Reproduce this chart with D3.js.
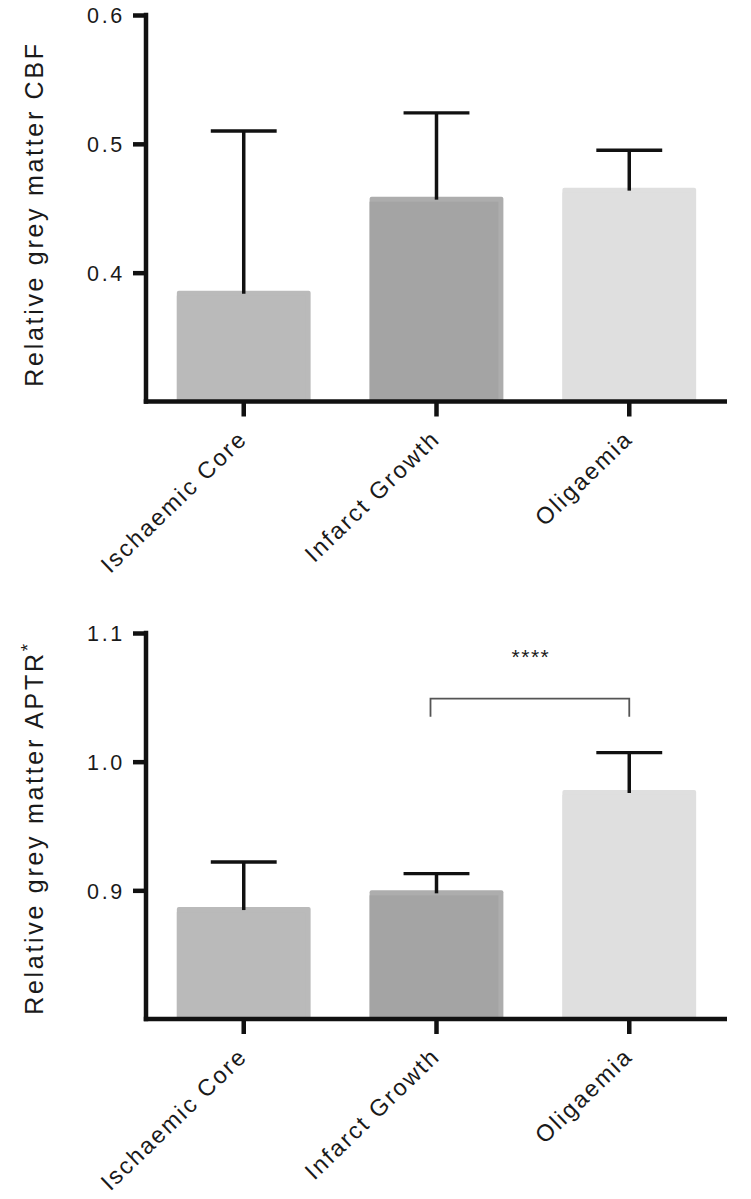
<!DOCTYPE html>
<html>
<head>
<meta charset="utf-8">
<script src="https://cdn.jsdelivr.net/npm/d3@7"></script>
<style>
  html, body { margin: 0; padding: 0; background: #fff; }
  svg { display: block; }
  text { font-family: "Liberation Sans", Arial, sans-serif; fill: #1a1a1a; }
</style>
</head>
<body>
<svg id="chart" width="751" height="1199"></svg>
<script>
// ---- Data ----
const categories = ["Ischaemic Core", "Infarct Growth", "Oligaemia"];
const barColors = ["#bababa", "#a4a4a4", "#dfdfdf"];
const barEdgeColors = ["#bababa", "#adadad", "#dfdfdf"];

// Panel A: Relative grey matter CBF
const cbfMeans = [0.386, 0.459, 0.466];
const cbfUpper = [0.510, 0.524, 0.495];
const cbfDomain = [0.3, 0.6];
const cbfTicks = [0.4, 0.5, 0.6];

// Panel B: Relative grey matter APTR*
const aptrMeans = [0.887, 0.900, 0.978];
const aptrUpper = [0.922, 0.913, 1.007];
const aptrDomain = [0.8, 1.1];
const aptrTicks = [0.9, 1.0, 1.1];

// Significance annotation (panel B)
const sigFrom = "Infarct Growth";
const sigTo = "Oligaemia";
const sigLabel = "****";
const sigBracketValue = 1.049;
const sigLegValue = 1.035;
const sigTextValue = 1.084;

const svg = d3.select("#chart");
const LS = 2.7; // letter spacing of the original typeface

function drawPanel(top, bottom, means, upper, domain, ticks, yLabelParts, labelCy, sig) {
  const left = 146, right = 727;
  const g = svg.append("g");

  const x = d3.scaleBand().domain(categories).range([left, right]).paddingInner(0.306).paddingOuter(0.16);
  const y = d3.scaleLinear().domain(domain).range([bottom, top]);

  // bars (with subtle edge)
  g.selectAll("rect.bar").data(categories).join("rect")
    .attr("class", "bar")
    .attr("x", d => x(d))
    .attr("width", x.bandwidth())
    .attr("y", (d, i) => y(means[i]))
    .attr("height", (d, i) => y(domain[0]) - y(means[i]))
    .attr("rx", 2)
    .attr("fill", (d, i) => barEdgeColors[i]);
  g.selectAll("rect.inner").data(categories).join("rect")
    .attr("class", "inner")
    .attr("x", d => x(d))
    .attr("width", x.bandwidth() - 5)
    .attr("y", (d, i) => y(means[i]) + 5)
    .attr("height", (d, i) => y(domain[0]) - y(means[i]) - 5)
    .attr("fill", (d, i) => barColors[i]);

  // error bars
  const capHalf = x.bandwidth() / 4 - 0.5;
  const eb = g.selectAll("g.eb").data(categories).join("g").attr("class", "eb");
  eb.append("line")
    .attr("x1", d => x(d) + x.bandwidth() / 2)
    .attr("x2", d => x(d) + x.bandwidth() / 2)
    .attr("y1", (d, i) => y(means[i]) + 3)
    .attr("y2", (d, i) => y(upper[i]))
    .attr("stroke", "#111").attr("stroke-width", 3.5);
  eb.append("line")
    .attr("x1", d => x(d) + x.bandwidth() / 2 - capHalf)
    .attr("x2", d => x(d) + x.bandwidth() / 2 + capHalf)
    .attr("y1", (d, i) => y(upper[i]))
    .attr("y2", (d, i) => y(upper[i]))
    .attr("stroke", "#111").attr("stroke-width", 3.4);

  // y axis
  const yAxis = d3.axisLeft(y).tickValues(ticks).tickFormat(d3.format(".1f")).tickSize(13).tickPadding(8);
  const ya = g.append("g").attr("transform", `translate(${left},0)`).call(yAxis);
  ya.select(".domain").remove();
  ya.selectAll(".tick line").attr("stroke", "#111").attr("stroke-width", 4.5);
  ya.selectAll(".tick text").attr("font-size", 21.5).attr("fill", "#2a2a2a")
    .attr("letter-spacing", LS).attr("dy", "0.36em");
  g.append("line").attr("x1", left).attr("x2", left).attr("y1", y(domain[1]) - 2.25).attr("y2", bottom + 2.25)
    .attr("stroke", "#111").attr("stroke-width", 4.5);

  // x axis
  const xAxis = d3.axisBottom(x).tickSize(15).tickPadding(0);
  const xa = g.append("g").attr("transform", `translate(0,${bottom})`).call(xAxis);
  xa.select(".domain").remove();
  xa.selectAll(".tick line").attr("stroke", "#111").attr("stroke-width", 4.5);
  xa.selectAll(".tick text")
    .attr("font-size", 23.5).attr("fill", "#2a2a2a")
    .attr("letter-spacing", 2.1)
    .attr("text-anchor", "end")
    .attr("dy", 0)
    .attr("y", 0)
    .attr("transform", "translate(5,39) rotate(-44)");
  g.append("line").attr("x1", left - 2.25).attr("x2", right).attr("y1", bottom).attr("y2", bottom)
    .attr("stroke", "#111").attr("stroke-width", 4.5);

  // y label
  const lbl = g.append("text")
    .attr("transform", `translate(43,${labelCy}) rotate(-90)`)
    .attr("text-anchor", "middle")
    .attr("letter-spacing", LS)
    .attr("font-size", 25).attr("fill", "#222");
  lbl.append("tspan").text(yLabelParts[0]);
  if (yLabelParts[1]) {
    lbl.append("tspan").attr("dy", -9).attr("font-size", 19).text(yLabelParts[1]);
  }

  // significance
  if (sig) {
    const x1 = x(sig.from) + x.bandwidth() / 2 - 6;
    const x2 = x(sig.to) + x.bandwidth() / 2;
    g.append("path")
      .attr("d", `M${x1},${y(sig.leg)} L${x1},${y(sig.bracket)} L${x2},${y(sig.bracket)} L${x2},${y(sig.leg)}`)
      .attr("fill", "none").attr("stroke", "#555").attr("stroke-width", 1.8);
    g.append("text")
      .attr("x", (x1 + x2) / 2 + 1).attr("y", y(sig.text) + 10)
      .attr("text-anchor", "middle").attr("font-size", 21).attr("letter-spacing", 1.5).attr("fill", "#555")
      .text(sig.label);
  }
}

drawPanel(15, 401.5, cbfMeans, cbfUpper, cbfDomain, cbfTicks, ["Relative grey matter CBF"], 214, null);
drawPanel(633, 1019, aptrMeans, aptrUpper, aptrDomain, aptrTicks, ["Relative grey matter APTR", "*"], 828,
  { from: sigFrom, to: sigTo, label: sigLabel, bracket: sigBracketValue, leg: sigLegValue, text: sigTextValue });
</script>
</body>
</html>
